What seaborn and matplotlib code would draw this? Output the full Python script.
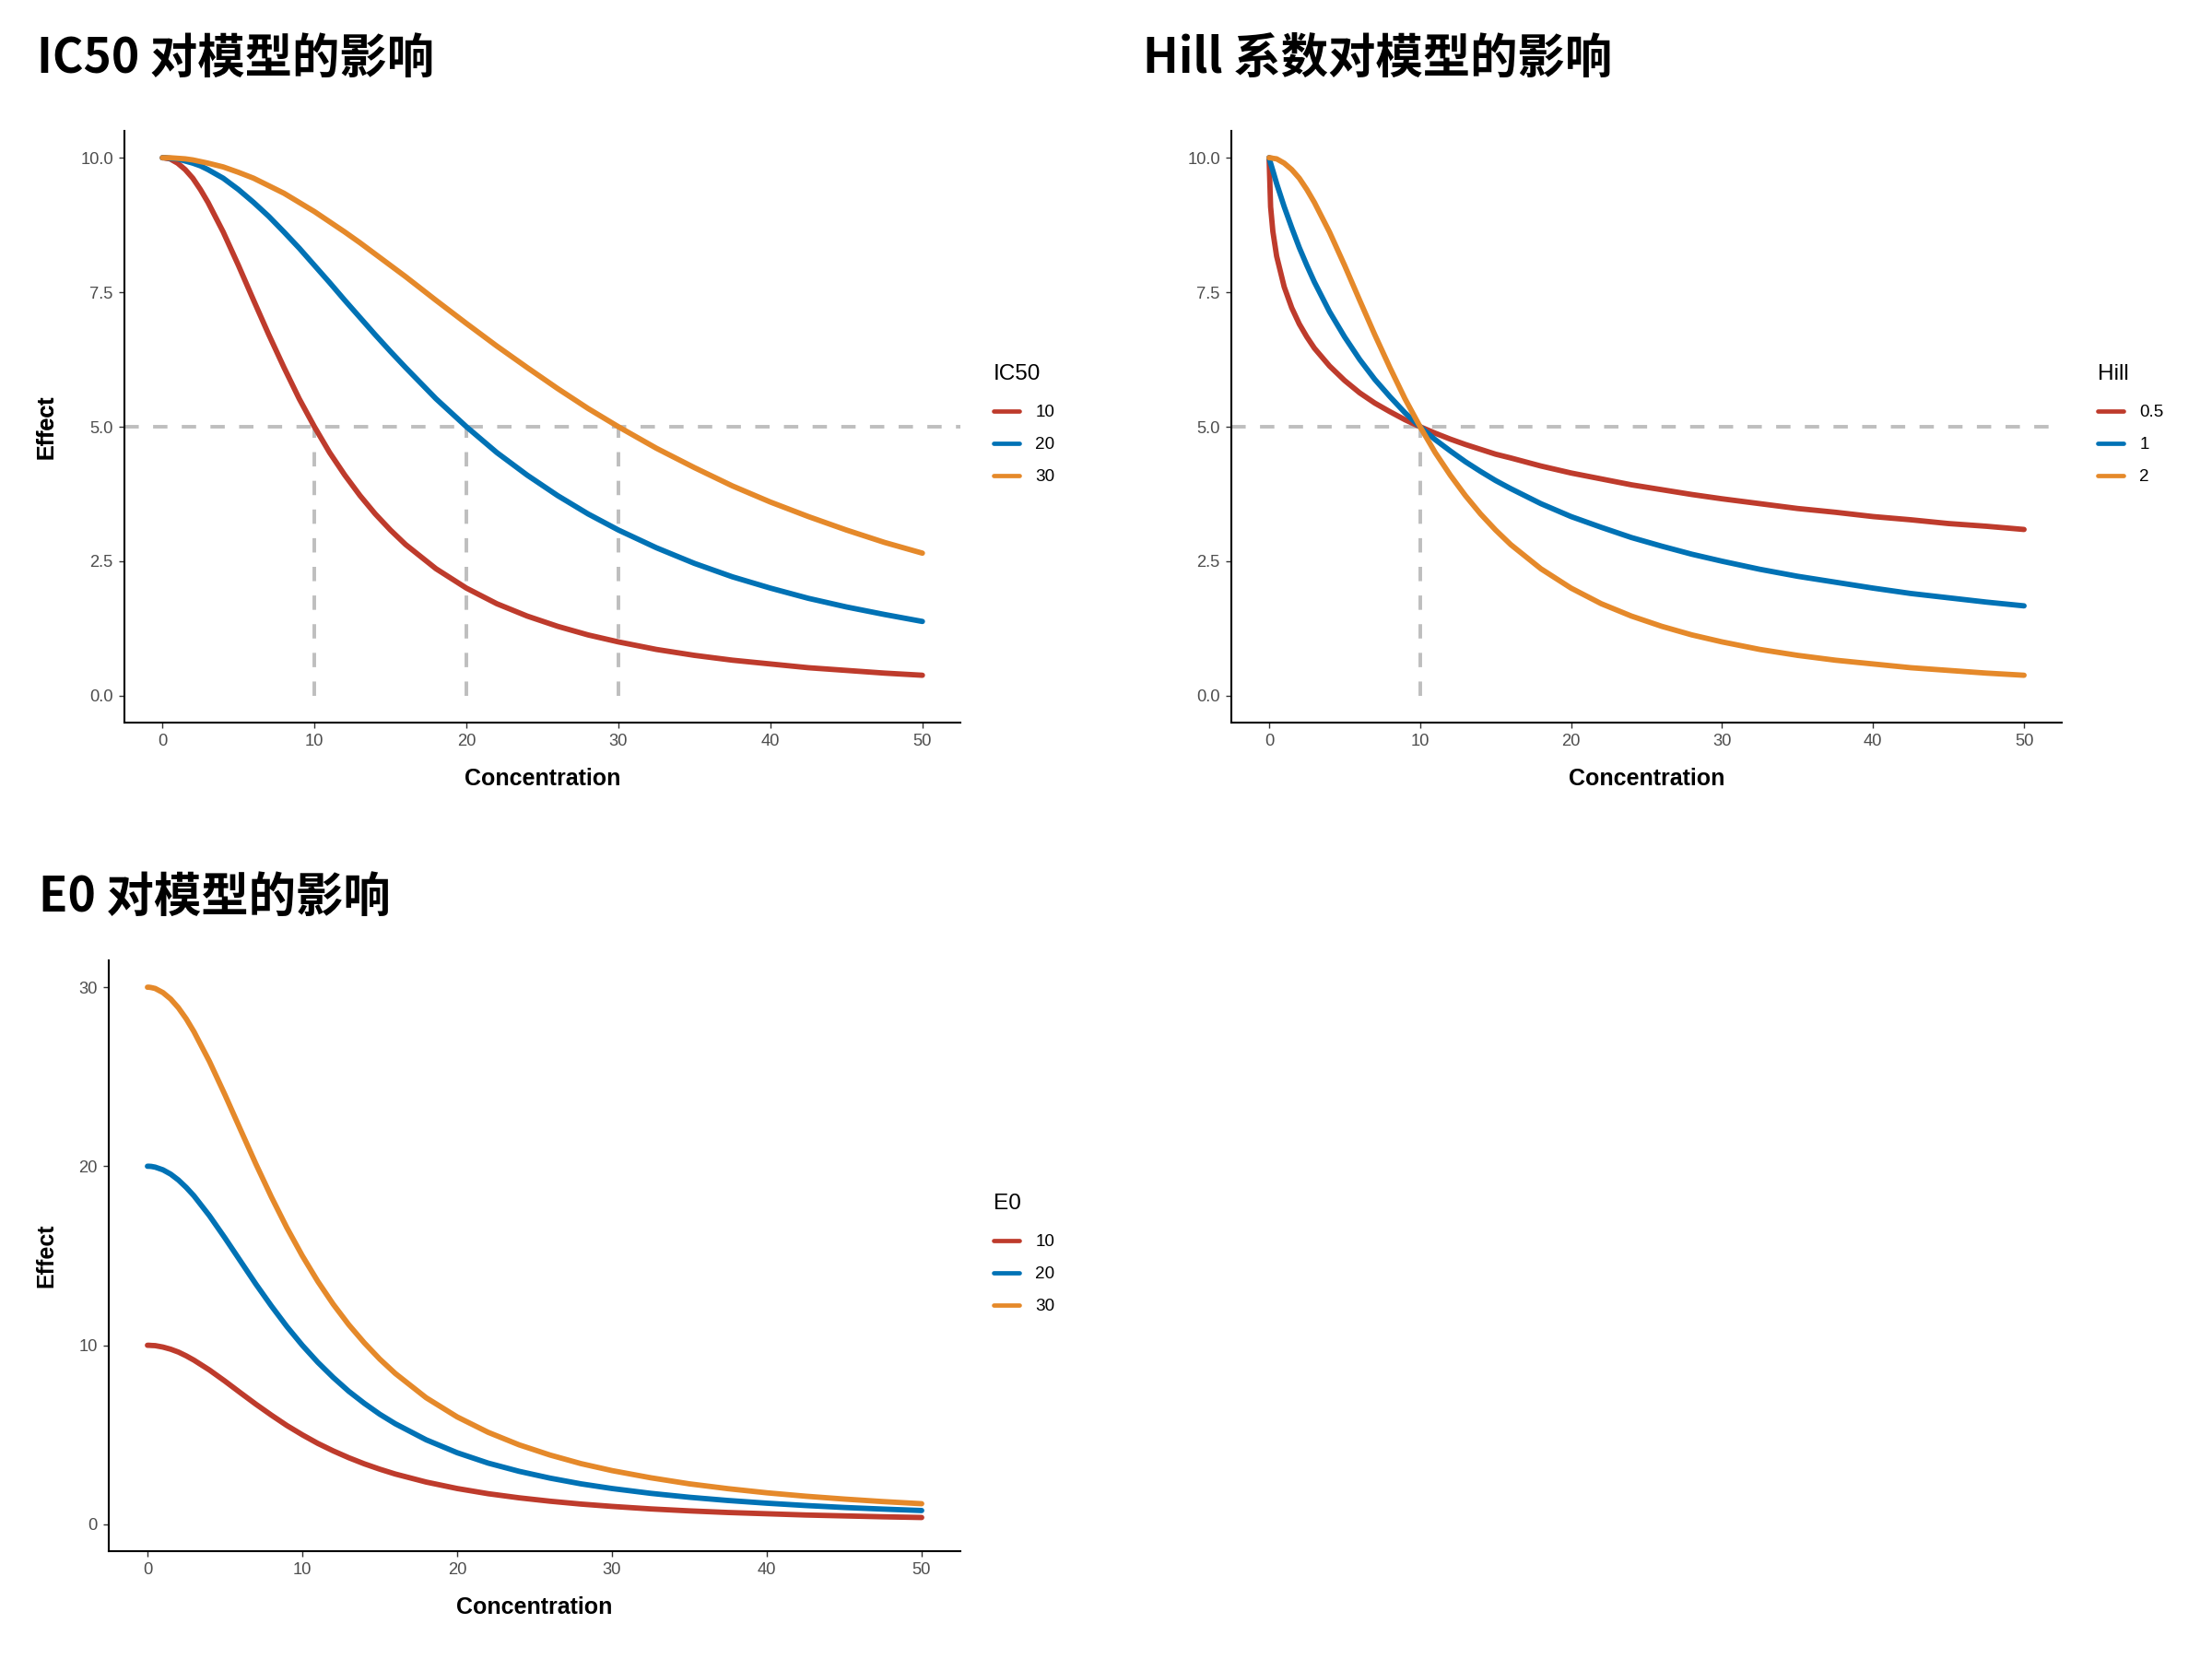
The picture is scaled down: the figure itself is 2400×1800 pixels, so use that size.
import pandas as pd
import matplotlib
matplotlib.use("Agg")
import matplotlib.pyplot as plt
import seaborn as sns

# =========================
# data
# =========================
conc = [0, 0.1, 0.25, 0.5, 1, 1.5, 2, 2.5, 3, 4, 5, 6, 7, 8, 9, 10, 11, 12, 13, 14, 15, 16,
        18, 20, 22, 24, 26, 28, 30, 32.5, 35, 37.5, 40, 42.5, 45, 47.5, 50]

# panel 1: IC50
ic50_levels = ["10", "20", "30"]
ic50_10 = [10.00, 10.00, 9.99, 9.98, 9.90, 9.78, 9.62, 9.41, 9.17, 8.62, 8.00, 7.35, 6.71, 6.10,
           5.52, 5.00, 4.52, 4.10, 3.72, 3.38, 3.08, 2.81, 2.36, 2.00, 1.71, 1.48, 1.29, 1.13,
           1.00, 0.86, 0.75, 0.66, 0.59, 0.52, 0.47, 0.42, 0.38]
ic50_20 = [10.00, 10.00, 10.00, 9.99, 9.98, 9.94, 9.90, 9.85, 9.78, 9.62, 9.41, 9.17, 8.91, 8.62,
           8.32, 8.00, 7.68, 7.35, 7.03, 6.71, 6.40, 6.10, 5.52, 5.00, 4.52, 4.10, 3.72, 3.38,
           3.08, 2.75, 2.46, 2.21, 2.00, 1.81, 1.65, 1.51, 1.38]
ic50_30 = [10.00, 10.00, 10.00, 10.00, 9.99, 9.98, 9.96, 9.93, 9.90, 9.83, 9.73, 9.62, 9.48, 9.34,
           9.17, 9.00, 8.81, 8.62, 8.42, 8.21, 8.00, 7.79, 7.35, 6.92, 6.50, 6.10, 5.71, 5.34,
           5.00, 4.60, 4.24, 3.90, 3.60, 3.33, 3.08, 2.85, 2.65]

# panel 2: Hill coefficient
hill_levels = ["0.5", "1", "2"]
hill_05 = [10.00, 9.09, 8.63, 8.17, 7.60, 7.21, 6.91, 6.67, 6.46, 6.13, 5.86, 5.63, 5.44, 5.28,
           5.13, 5.00, 4.88, 4.77, 4.67, 4.58, 4.49, 4.42, 4.27, 4.14, 4.03, 3.92, 3.83, 3.74,
           3.66, 3.57, 3.48, 3.41, 3.33, 3.27, 3.20, 3.15, 3.09]
hill_1 = [10.00, 9.90, 9.76, 9.52, 9.09, 8.70, 8.33, 8.00, 7.69, 7.14, 6.67, 6.25, 5.88, 5.56,
          5.26, 5.00, 4.76, 4.55, 4.35, 4.17, 4.00, 3.85, 3.57, 3.33, 3.13, 2.94, 2.78, 2.63,
          2.50, 2.35, 2.22, 2.11, 2.00, 1.90, 1.82, 1.74, 1.67]
hill_2 = [10.00, 10.00, 9.99, 9.98, 9.90, 9.78, 9.62, 9.41, 9.17, 8.62, 8.00, 7.35, 6.71, 6.10,
          5.52, 5.00, 4.52, 4.10, 3.72, 3.38, 3.08, 2.81, 2.36, 2.00, 1.71, 1.48, 1.29, 1.13,
          1.00, 0.86, 0.75, 0.66, 0.59, 0.52, 0.47, 0.42, 0.38]

# panel 3: E0
e0_levels = ["10", "20", "30"]
e0_10 = [10.00, 10.00, 9.99, 9.98, 9.90, 9.78, 9.62, 9.41, 9.17, 8.62, 8.00, 7.35, 6.71, 6.10,
         5.52, 5.00, 4.52, 4.10, 3.72, 3.38, 3.08, 2.81, 2.36, 2.00, 1.71, 1.48, 1.29, 1.13,
         1.00, 0.86, 0.75, 0.66, 0.59, 0.52, 0.47, 0.42, 0.38]
e0_20 = [20.00, 20.00, 19.99, 19.95, 19.80, 19.56, 19.23, 18.82, 18.35, 17.24, 16.00, 14.71, 13.42,
         12.20, 11.05, 10.00, 9.05, 8.20, 7.43, 6.76, 6.15, 5.62, 4.72, 4.00, 3.42, 2.96, 2.58,
         2.26, 2.00, 1.73, 1.51, 1.33, 1.18, 1.05, 0.94, 0.85, 0.77]
e0_30 = [30.00, 30.00, 29.98, 29.93, 29.70, 29.34, 28.85, 28.24, 27.52, 25.86, 24.00, 22.06, 20.13,
         18.29, 16.57, 15.00, 13.57, 12.29, 11.15, 10.14, 9.23, 8.43, 7.07, 6.00, 5.14, 4.44, 3.87,
         3.39, 3.00, 2.60, 2.26, 1.99, 1.76, 1.57, 1.41, 1.27, 1.15]

# reference lines (half-effect level and IC50 markers)
half_effect = 5
ic50_marks = [10, 20, 30]
hill_marks = [10]

titles = ["IC50 对模型的影响", "Hill 系数对模型的影响", "E0 对模型的影响"]
colors = ["#BE3B2C", "#0072B5", "#E5892A"]


def long_df(levels, series):
    rows = []
    for lev, vals in zip(levels, series):
        for c, v in zip(conc, vals):
            rows.append({"Concentration": c, "Effect": v, "group": lev})
    return pd.DataFrame(rows)


# =========================
# style
# =========================
sns.set_style("ticks")
plt.rcParams["font.family"] = ["Liberation Sans", "DejaVu Sans"]
plt.rcParams["axes.linewidth"] = 0.75
plt.rcParams["text.color"] = "black"
plt.rcParams["axes.labelcolor"] = "black"
plt.rcParams["axes.edgecolor"] = "black"

fig = plt.figure(figsize=(12, 9), dpi=200)

# panel rectangles in figure fractions (pixel boxes)
rects = [
    [135 / 2400, 1 - 784 / 1800, 907 / 2400, 642 / 1800],
    [1336 / 2400, 1 - 784 / 1800, 901 / 2400, 642 / 1800],
    [118 / 2400, 1 - 1683 / 1800, 924 / 2400, 641 / 1800],
]
title_pos = [(40, 63), (1240, 63), (42, 973)]
legend_pos = [(1078, 395), (2276, 395), (1078, 1295)]
legend_titles = ["IC50", "Hill", "E0"]

panels = [
    (ic50_levels, [ic50_10, ic50_20, ic50_30]),
    (hill_levels, [hill_05, hill_1, hill_2]),
    (e0_levels, [e0_10, e0_20, e0_30]),
]

for i, (levels, series) in enumerate(panels):
    ax = fig.add_axes(rects[i])
    df = long_df(levels, series)

    # dashed guides underneath the curves
    if i < 2:
        ax.axhline(half_effect, color="#BEBEBE", lw=1.4, ls=(0, (4, 4)), zorder=1)
        marks = ic50_marks if i == 0 else hill_marks
        ax.vlines(marks, 0, half_effect, color="#BEBEBE", lw=1.4, ls=(0, (4, 4)), zorder=1)

    sns.lineplot(data=df, x="Concentration", y="Effect", hue="group",
                 hue_order=levels, palette=colors, linewidth=2.1,
                 errorbar=None, ax=ax, zorder=3)

    ax.set_xlim(-2.5, 52.5)
    ax.set_xticks([0, 10, 20, 30, 40, 50])
    if i < 2:
        ax.set_ylim(-0.5, 10.5)
        ax.set_yticks([0, 2.5, 5, 7.5, 10])
        ax.set_yticklabels(["0.0", "2.5", "5.0", "7.5", "10.0"])
    else:
        ax.set_ylim(-1.5, 31.5)
        ax.set_yticks([0, 10, 20, 30])

    sns.despine(ax=ax)
    ax.tick_params(axis="both", labelsize=6.6, labelcolor="#4D4D4D", length=2.0,
                   width=0.5, color="#333333", pad=2.4)

    ax.set_xlabel("Concentration", fontsize=9, fontweight="bold", color="black")
    ax.set_ylabel("Effect", fontsize=9, fontweight="bold", color="black")
    ax.xaxis.set_label_coords(0.5, -0.076)
    left_px = rects[i][0] * 2400
    width_px = rects[i][2] * 2400
    ax.yaxis.set_label_coords((62 - left_px) / width_px, 0.5)

    # legend
    handles, labels = ax.get_legend_handles_labels()
    ax.get_legend().remove()
    lx, ly = legend_pos[i]
    leg = ax.legend(handles, labels, title=legend_titles[i], loc="upper left",
                    bbox_to_anchor=(lx / 2400, 1 - ly / 1800), bbox_transform=fig.transFigure,
                    frameon=False, fontsize=6.8, title_fontsize=8.8, borderpad=0,
                    handlelength=1.5, handletextpad=0.9, labelspacing=0.95,
                    alignment="left", borderaxespad=0)
    leg._legend_box.sep = 7.9
    for h in leg.legend_handles:
        h.set_linewidth(1.7)
    for t in leg.get_texts():
        t.set_color("black")
    leg.get_title().set_color("black")

    tx, ty = title_pos[i]
    fig.text(tx / 2400, 1 - ty / 1800, titles[i], fontsize=18.5, fontweight="bold",
             color="black", va="center", ha="left",
             family=["Noto Sans CJK SC", "DejaVu Sans"])

fig.savefig("out.png", dpi=200)
